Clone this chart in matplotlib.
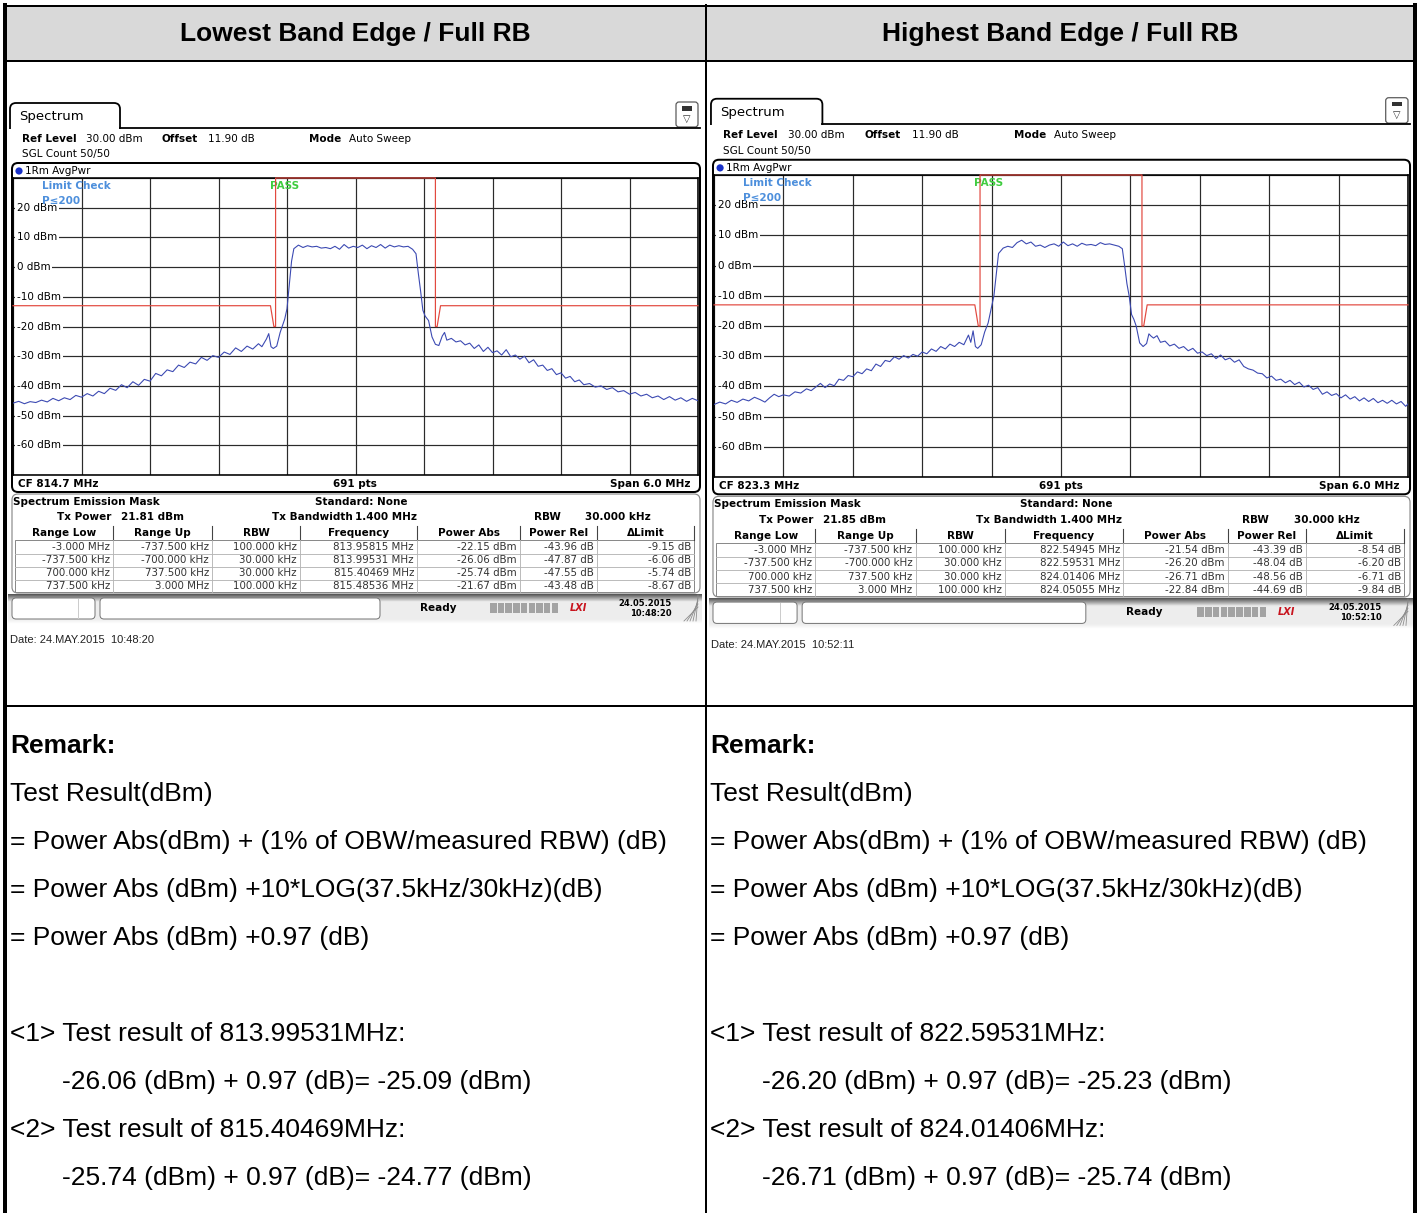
import numpy as np
import matplotlib
matplotlib.use("Agg")
import matplotlib.pyplot as plt
from matplotlib.patches import FancyBboxPatch, Rectangle, Circle

W, H = 1421, 1213

# ---- report text ----
header_titles = ["Lowest Band Edge / Full RB", "Highest Band Edge / Full RB"]
cf_mhz = [814.7, 823.3]
tx_power = [21.81, 21.85]
shot_dates = ["24.MAY.2015  10:48:20", "24.MAY.2015  10:52:11"]
status_dates = [("24.05.2015", "10:48:20"), ("24.05.2015", "10:52:10")]
remark_lines = ["Test Result(dBm)",
                "= Power Abs(dBm) + (1% of OBW/measured RBW) (dB)",
                "= Power Abs (dBm) +10*LOG(37.5kHz/30kHz)(dB)",
                "= Power Abs (dBm) +0.97 (dB)"]
corr_db = 0.97

# ---- SEM result table ----
sem_cols = ["Range Low", "Range Up", "RBW", "Frequency", "Power Abs", "Power Rel", "\u0394Limit"]
range_low = ["-3.000 MHz", "-737.500 kHz", "700.000 kHz", "737.500 kHz"]
range_up = ["-737.500 kHz", "-700.000 kHz", "737.500 kHz", "3.000 MHz"]
rbw_khz = [100.0, 30.0, 30.0, 100.0]
freq_low = [813.95815, 813.99531, 815.40469, 815.48536]
pabs_low = [-22.15, -26.06, -25.74, -21.67]
prel_low = [-43.96, -47.87, -47.55, -43.48]
dlim_low = [-9.15, -6.06, -5.74, -8.67]
freq_high = [822.54945, 822.59531, 824.01406, 824.05055]
pabs_high = [-21.54, -26.20, -26.71, -22.84]
prel_high = [-43.39, -48.04, -48.56, -44.69]
dlim_high = [-8.54, -6.20, -6.71, -9.84]

# ---- limit line (offset from CF, MHz / dBm) ----
lim_off = [-3.0, -0.745, -0.715, -0.70, -0.70, 0.70, 0.70, 0.715, 0.745, 3.0]
lim_dbm = [-13, -13, -20, -20, 30, 30, -20, -20, -13, -13]

# ---- traces (offset from CF, MHz / dBm) ----
low_off = [-3.00, -2.95, -2.90, -2.85, -2.80, -2.75, -2.70, -2.65, -2.60, -2.55,
           -2.50, -2.45, -2.40, -2.35, -2.30, -2.25, -2.20, -2.15, -2.10, -2.05,
           -2.00, -1.95, -1.90, -1.85, -1.80, -1.75, -1.70, -1.65, -1.60, -1.55,
           -1.50, -1.45, -1.40, -1.35, -1.30, -1.25, -1.20, -1.15, -1.10, -1.05,
           -1.00, -0.95, -0.90, -0.85, -0.82, -0.78, -0.76, -0.74, -0.72, -0.69,
           -0.66, -0.62, -0.60, -0.58, -0.56, -0.54, -0.50, -0.46, -0.42, -0.38,
           -0.34, -0.30, -0.26, -0.22, -0.18, -0.14, -0.10, -0.06, -0.02, 0.02,
           0.06, 0.10, 0.14, 0.18, 0.22, 0.26, 0.30, 0.34, 0.38, 0.42,
           0.46, 0.50, 0.53, 0.55, 0.57, 0.59, 0.61, 0.64, 0.67, 0.70,
           0.73, 0.76, 0.78, 0.80, 0.84, 0.88, 0.92, 0.96, 1.00, 1.04,
           1.08, 1.12, 1.16, 1.20, 1.24, 1.28, 1.32, 1.36, 1.40, 1.44,
           1.48, 1.52, 1.56, 1.60, 1.64, 1.68, 1.72, 1.76, 1.80, 1.84,
           1.88, 1.92, 1.96, 2.00, 2.05, 2.10, 2.15, 2.20, 2.25, 2.30,
           2.35, 2.40, 2.45, 2.50, 2.55, 2.60, 2.65, 2.70, 2.75, 2.80,
           2.85, 2.90, 2.95, 3.00]
low_dbm = [-45.8, -45.2, -46.0, -45.3, -45.6, -44.8, -45.4, -44.2, -45.0, -44.0,
           -44.6, -43.2, -43.8, -42.6, -43.4, -41.8, -42.6, -40.8, -41.5, -39.6,
           -40.6, -38.6, -39.8, -37.8, -38.4, -35.8, -36.6, -34.6, -35.2, -33.0,
           -33.8, -32.0, -32.6, -30.4, -31.4, -29.8, -30.4, -28.6, -29.4, -27.2,
           -28.4, -26.6, -27.6, -25.8, -26.8, -24.2, -22.4, -26.8, -27.4, -26.6,
           -22.0, -17.5, -14.0, -6.0, 2.0, 6.2, 7.4, 6.6, 7.2, 6.8,
           7.0, 6.4, 6.6, 6.2, 7.0, 6.0, 7.6, 6.4, 7.0, 6.6,
           7.4, 6.2, 7.2, 6.6, 7.6, 6.4, 7.4, 6.8, 7.2, 6.8,
           7.0, 6.0, 4.5, -2.0, -8.0, -14.5, -16.5, -18.0, -23.5, -26.0,
           -26.4, -23.2, -22.0, -24.6, -24.0, -25.2, -24.8, -26.2, -25.6, -27.4,
           -26.2, -28.4, -27.0, -28.8, -28.2, -29.6, -27.8, -30.2, -29.6, -31.0,
           -30.0, -32.2, -31.2, -33.4, -33.0, -34.8, -34.2, -36.2, -35.6, -37.4,
           -36.8, -38.6, -38.0, -39.6, -39.2, -40.4, -40.0, -41.2, -40.6, -42.0,
           -41.6, -42.8, -42.2, -43.4, -42.8, -44.0, -43.4, -44.6, -43.6, -44.8,
           -44.0, -45.2, -44.2, -45.0]

high_off = [-3.00, -2.95, -2.90, -2.85, -2.80, -2.75, -2.70, -2.65, -2.60, -2.56,
            -2.52, -2.48, -2.44, -2.40, -2.35, -2.30, -2.25, -2.20, -2.16, -2.12,
            -2.08, -2.04, -2.00, -1.96, -1.92, -1.88, -1.84, -1.80, -1.76, -1.72,
            -1.68, -1.64, -1.60, -1.56, -1.52, -1.48, -1.44, -1.40, -1.36, -1.32,
            -1.28, -1.24, -1.20, -1.16, -1.12, -1.08, -1.04, -1.00, -0.96, -0.92,
            -0.88, -0.84, -0.80, -0.78, -0.76, -0.74, -0.72, -0.69, -0.66, -0.63,
            -0.60, -0.58, -0.56, -0.54, -0.50, -0.46, -0.42, -0.38, -0.34, -0.30,
            -0.26, -0.22, -0.18, -0.14, -0.10, -0.06, -0.02, 0.02, 0.06, 0.10,
            0.14, 0.18, 0.22, 0.26, 0.30, 0.34, 0.38, 0.42, 0.46, 0.50,
            0.53, 0.55, 0.57, 0.59, 0.61, 0.63, 0.65, 0.68, 0.71, 0.74,
            0.76, 0.78, 0.80, 0.83, 0.86, 0.90, 0.94, 0.98, 1.02, 1.06,
            1.10, 1.14, 1.18, 1.22, 1.26, 1.30, 1.34, 1.38, 1.42, 1.46,
            1.50, 1.54, 1.58, 1.62, 1.66, 1.70, 1.74, 1.78, 1.82, 1.86,
            1.90, 1.94, 1.98, 2.02, 2.06, 2.10, 2.14, 2.18, 2.22, 2.26,
            2.30, 2.34, 2.38, 2.42, 2.46, 2.50, 2.54, 2.58, 2.62, 2.66,
            2.70, 2.74, 2.78, 2.82, 2.86, 2.90, 2.94, 2.98, 3.00]
high_dbm = [-46.0, -45.2, -45.8, -44.6, -45.3, -44.2, -44.8, -43.6, -44.4, -45.2,
            -43.8, -42.6, -43.4, -42.8, -43.2, -41.8, -42.2, -40.8, -41.4, -40.2,
            -39.0, -40.4, -39.2, -39.8, -37.6, -38.0, -36.4, -36.8, -35.2, -35.8,
            -34.2, -34.8, -32.6, -33.4, -31.4, -31.8, -30.2, -31.0, -29.8, -30.6,
            -29.4, -30.0, -28.6, -29.2, -27.6, -28.4, -26.8, -27.6, -26.0, -26.8,
            -25.4, -26.2, -23.0, -25.4, -21.6, -26.8, -27.4, -26.2, -22.0, -19.0,
            -13.6, -10.0, -3.0, 4.0, 5.8, 6.4, 6.0, 7.6, 8.4, 7.2,
            7.8, 6.4, 6.8, 6.0, 6.8, 7.2, 6.4, 7.8, 6.6, 7.2,
            6.4, 7.4, 6.8, 7.0, 6.6, 7.6, 7.0, 7.2, 6.8, 6.4,
            5.6, 0.0, -6.0, -10.2, -16.2, -17.8, -20.0, -25.6, -26.8, -25.8,
            -22.6, -23.4, -24.0, -23.2, -25.4, -25.0, -26.6, -26.0, -27.4, -26.8,
            -28.2, -27.4, -29.0, -28.6, -29.8, -29.2, -30.8, -29.6, -31.2, -30.6,
            -32.0, -31.2, -33.4, -34.2, -34.6, -35.6, -35.8, -37.2, -36.6, -38.0,
            -37.6, -38.8, -38.0, -39.4, -38.6, -40.2, -39.6, -41.0, -40.4, -42.6,
            -41.8, -43.0, -42.4, -43.8, -42.8, -44.2, -43.4, -44.8, -43.8, -45.0,
            -44.0, -45.4, -44.6, -45.6, -44.6, -45.8, -45.0, -46.6, -45.8]

PX = 0.72  # one pixel in points at dpi 100
INSTR = "DejaVu Sans"
REPORT = "Liberation Sans"

fig = plt.figure(figsize=(W / 100, H / 100), dpi=100)
bg = fig.add_axes([0, 0, 1, 1])
bg.set_xlim(0, W)
bg.set_ylim(H, 0)
bg.axis("off")


def draw_panel(ox, oy, sx, sy, cf, txp, freqs, pabs, prel, dlim, toff, tdbm, sdate, stime, shot_date):
    # local coords are those of the left screenshot; grid corner (13,178)
    def P(x, y):
        return ox + (x - 13) * sx, oy + (y - 178) * sy

    def T(x, y, s, **kw):
        X, Y = P(x, y)
        kw.setdefault("fontsize", 7.5)
        kw.setdefault("va", "center")
        kw.setdefault("family", INSTR)
        kw.setdefault("zorder", 4)
        bg.text(X, Y, s, **kw)

    def L(xs, ys, **kw):
        pts = [P(x, y) for x, y in zip(xs, ys)]
        kw.setdefault("zorder", 3)
        bg.plot([p[0] for p in pts], [p[1] for p in pts], **kw)

    def RR(x0, y0, x1, y1, r=4, **kw):
        X0, Y0 = P(x0, y0)
        X1, Y1 = P(x1, y1)
        kw.setdefault("zorder", 2)
        bg.add_patch(FancyBboxPatch((X0, Y0), X1 - X0, Y1 - Y0,
                                    boxstyle=f"round,pad=0,rounding_size={r}", **kw))

    def RC(x0, y0, x1, y1, **kw):
        X0, Y0 = P(x0, y0)
        X1, Y1 = P(x1, y1)
        kw.setdefault("zorder", 2)
        bg.add_patch(Rectangle((X0, Y0), X1 - X0, Y1 - Y0, **kw))

    # tab + top line
    RR(10, 103, 120, 140, r=6, fc="white", ec="black", lw=1.8 * PX)
    RC(8, 128.5, 122, 145, fc="white", ec="none", zorder=2.5)
    L([120, 700], [128, 128], color="black", lw=1.8 * PX)
    T(19, 116.5, "Spectrum", fontsize=9.5)
    RR(676, 102, 698, 127, r=3, fc="white", ec="#555555", lw=1.2 * PX)
    RC(682, 106, 692, 110.5, fc="#333333", ec="none", zorder=3)
    T(687, 118.5, "\u25bd", fontsize=7, ha="center", color="#333333")

    # settings lines
    T(22, 139, "Ref Level", weight="bold")
    T(86, 139, "30.00 dBm")
    T(162, 139, "Offset", weight="bold")
    T(208, 139, "11.90 dB")
    T(309, 139, "Mode", weight="bold")
    T(349, 139, "Auto Sweep")
    T(22, 154, "SGL Count 50/50")

    # diagram frame
    RR(12, 163, 700, 492, r=6, fc="none", ec="black", lw=2.0 * PX)
    X, Y = P(19, 171)
    bg.add_patch(Circle((X, Y), 3.6, fc="#1830c8", ec="none", zorder=4))
    T(25, 171, "1Rm AvgPwr")
    T(18, 484, "CF %.1f MHz" % cf, weight="bold")
    T(355, 484, "691 pts", weight="bold", ha="center")
    T(690, 484, "Span 6.0 MHz", weight="bold", ha="right")

    # spectrum axes
    X0, Y0 = P(13, 178)
    X1, Y1 = P(698, 475)
    ax = fig.add_axes([X0 / W, 1 - Y1 / H, (X1 - X0) / W, (Y1 - Y0) / H])
    ax.set_facecolor("none")
    ax.set_xlim(cf - 3, cf + 3)
    ax.set_ylim(-70, 30)
    ax.set_xticks(cf + np.arange(-3, 3.01, 0.6))
    ax.set_yticks(np.arange(-70, 31, 10))
    ax.set_axisbelow(True)
    ax.grid(True, color="#2b2b2b", lw=1.2 * PX)
    ax.tick_params(length=0, labelbottom=False, labelleft=False)
    for sp in ax.spines.values():
        sp.set_color("black")
        sp.set_linewidth(1.6 * PX)
    ax.plot(cf + np.array(lim_off), lim_dbm, color="#e2493f", lw=1.2 * PX, zorder=3, clip_on=False)
    ax.plot(cf + np.array(toff), tdbm, color="#3b49b2", lw=1.1 * PX, zorder=4)
    for v in range(20, -61, -10):
        ax.text(cf - 2.965, v, "%d dBm" % v, fontsize=7.5, family=INSTR, va="center", ha="left",
                bbox=dict(fc="white", ec="none", pad=1.2), zorder=5)
    X, Y = P(42, 186)
    ax.text(X, Y, "Limit Check", transform=bg.transData, fontsize=7.5, family=INSTR, weight="bold",
            color="#4d8fdc", va="center", zorder=6)
    X, Y = P(42, 201)
    ax.text(X, Y, "P\u2264200", transform=bg.transData, fontsize=7.5, family=INSTR, weight="bold",
            color="#4d8fdc", va="center", zorder=6)
    X, Y = P(270, 186)
    ax.text(X, Y, "PASS", transform=bg.transData, fontsize=7.5, family=INSTR, weight="bold",
            color="#3fcc3f", va="center", zorder=2)

    # SEM result box
    RR(12, 494, 700, 593, r=6, fc="white", ec="#8c8c8c", lw=1.2 * PX)
    T(13, 502, "Spectrum Emission Mask", weight="bold")
    T(315, 502, "Standard: None", weight="bold")
    T(57, 517, "Tx Power", weight="bold")
    T(121, 517, "%.2f dBm" % txp, weight="bold")
    T(272, 517, "Tx Bandwidth", weight="bold")
    T(355, 517, "1.400 MHz", weight="bold")
    T(534, 517, "RBW", weight="bold")
    T(585, 517, "30.000 kHz", weight="bold")
    seps = [15, 113, 212, 300, 417, 520, 597, 694]
    for i, name in enumerate(sem_cols):
        T((seps[i] + seps[i + 1]) / 2, 533, name, weight="bold", ha="center")
    for x in seps[1:]:
        L([x, x], [526, 540], color="#444444", lw=1.1 * PX)
    RC(15, 540, 694, 592, fc="white", ec="#8a8a8a", lw=1.0 * PX)
    row_y = [547, 560, 573, 586]
    for y in [553.5, 566.5, 579.5]:
        L([15, 694], [y, y], color="#b5b5b5", lw=0.9 * PX)
    for x in seps[1:-1]:
        L([x, x], [540, 592], color="#b5b5b5", lw=0.9 * PX)
    for k in range(4):
        cells = [range_low[k], range_up[k], "%.3f kHz" % rbw_khz[k], "%.5f MHz" % freqs[k],
                 "%.2f dBm" % pabs[k], "%.2f dB" % prel[k], "%.2f dB" % dlim[k]]
        for i, c in enumerate(cells):
            T(seps[i + 1] - 3, row_y[k], c, ha="right", fontsize=7.4, color="#333333")

    # status bar with gradient
    X0, Y0 = P(8, 594)
    X1, Y1 = P(702, 624)
    shade = np.linspace(0, 1, 30)
    col = 0.35 + 0.58 * np.clip(shade / 0.25, 0, 1)
    col = np.where(shade > 0.85, 0.93 + (shade - 0.85) * 0.45, col)
    img = np.repeat(col[:, None, None], 3, axis=2)
    bg.imshow(img, extent=(X0, X1, Y1, Y0), aspect="auto", zorder=1, interpolation="bilinear")
    RR(12, 598, 95, 619, r=4, fc="white", ec="#777777", lw=1.0 * PX, zorder=3)
    L([78, 78], [599, 618], color="#cccccc", lw=1.0 * PX)
    RR(100, 598, 380, 619, r=4, fc="white", ec="#777777", lw=1.0 * PX, zorder=3)
    T(420, 608, "Ready", weight="bold", fontsize=7.5)
    for k in range(9):
        RC(490 + k * 7.7, 603, 496.5 + k * 7.7, 613, fc="#a3a3a3", ec="none", zorder=3)
    T(578, 608, "LXI", weight="bold", style="italic", color="#c8141e", fontsize=7, ha="center")
    T(672, 603, sdate, weight="bold", fontsize=6, ha="right")
    T(672, 613, stime, weight="bold", fontsize=6, ha="right")
    for k in range(5):
        L([684 + k * 3, 698], [621, 607 - k * 3], color="#8a8a8a", lw=0.8 * PX)

    T(10, 640, "Date: " + shot_date, family=REPORT, fontsize=8, color="#222222")


# ---- report table frame ----
bg.add_patch(Rectangle((5, 6), 1410, 55, fc="#d9d9d9", ec="none", zorder=0))
for y in [6, 61, 706]:
    bg.plot([4, 1416], [y, y], color="black", lw=2 * PX, zorder=5)
bg.plot([5, 5], [5, H], color="black", lw=4 * PX, zorder=5)
bg.plot([705.5, 705.5], [5, H], color="black", lw=2 * PX, zorder=5)
bg.plot([1415, 1415], [5, H], color="black", lw=4 * PX, zorder=5)

for cx, title in zip([355, 1060], header_titles):
    bg.text(cx, 34, title, family=REPORT, weight="bold", fontsize=19, ha="center", va="center")

draw_panel(13, 178, 1.0, 1.0, cf_mhz[0], tx_power[0], freq_low, pabs_low, prel_low, dlim_low,
           low_off, low_dbm, status_dates[0][0], status_dates[0][1], shot_dates[0])
draw_panel(714, 175, 694 / 685, 302 / 297, cf_mhz[1], tx_power[1], freq_high, pabs_high, prel_high,
           dlim_high, high_off, high_dbm, status_dates[1][0], status_dates[1][1], shot_dates[1])

# ---- remarks ----
for x0, freqs, pabs in [(10, freq_low, pabs_low), (710, freq_high, pabs_high)]:
    bg.text(x0, 746, "Remark:", family=REPORT, weight="bold", fontsize=19, va="center")
    for i, s in enumerate(remark_lines):
        bg.text(x0, 794 + 48 * i, s, family=REPORT, fontsize=19, va="center")
    for n, k in enumerate([1, 2]):
        y = 1034 + 96 * n
        bg.text(x0, y, "<%d> Test result of %.5fMHz:" % (n + 1, freqs[k]), family=REPORT,
                fontsize=19, va="center")
        bg.text(x0 + 52, y + 48, "%.2f (dBm) + %.2f (dB)= %.2f (dBm)" % (pabs[k], corr_db, pabs[k] + corr_db),
                family=REPORT, fontsize=19, va="center")

bg.set_xlim(0, W)
bg.set_ylim(H, 0)
fig.savefig("out.png", dpi=100)
